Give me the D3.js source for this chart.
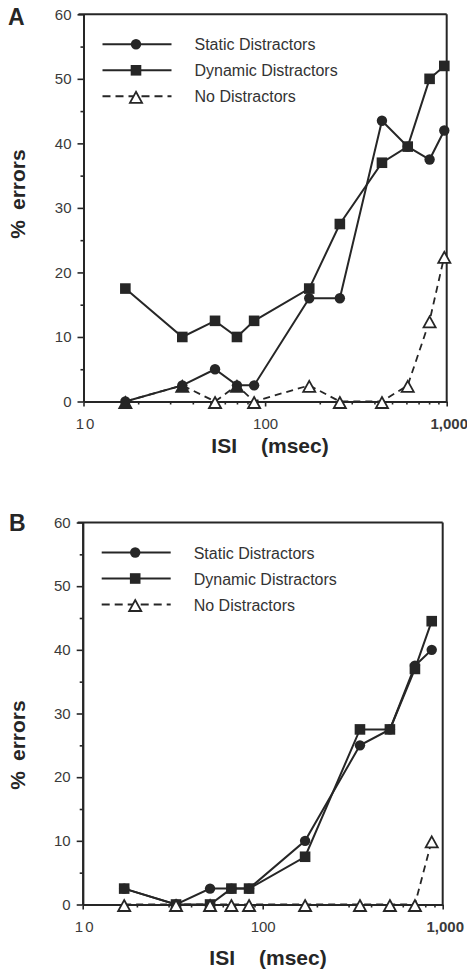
<!DOCTYPE html>
<html>
<head>
<meta charset="utf-8">
<script src="https://cdn.jsdelivr.net/npm/d3@7"></script>
<style>
  body { margin: 0; background: #fff; }
  svg { display: block; font-family: "Liberation Sans", Arial, sans-serif; }
</style>
</head>
<body>
<svg id="chart" width="467" height="970"></svg>
<script>
// panel A
var isiA = [17, 35, 53, 70, 87, 175, 258, 440, 610, 805, 970];
var staticA = [0, 2.5, 5, 2.5, 2.5, 16, 16, 43.5, 39.5, 37.5, 42];
var dynamicA = [17.5, 10, 12.5, 10, 12.5, 17.5, 27.5, 37, 39.5, 50, 52];
var noDistA = [0, 2.5, 0, 2.5, 0, 2.5, 0, 0, 2.5, 12.5, 22.5];

// panel B
var isiB = [17, 33, 51, 67, 84, 172, 347, 509, 701, 869];
var staticB = [2.5, 0, 2.5, 2.5, 2.5, 10, 25, 27.5, 37.5, 40];
var dynamicB = [2.5, 0, 0, 2.5, 2.5, 7.5, 27.5, 27.5, 37, 44.5];
var noDistB = [0, 0, 0, 0, 0, 0, 0, 0, 0, 10];

var seriesNames = ["Static Distractors", "Dynamic Distractors", "No Distractors"];
var yMajor = [0, 10, 20, 30, 40, 50, 60];
var yMinor = [5, 15, 25, 35, 45, 55];
var xMajor = [10, 100, 1000];
var xMajorLabels = ["10", "100", "1,000"];
var xMinor = [20, 30, 40, 50, 60, 70, 80, 90, 200, 300, 400, 500, 600, 700, 800, 900];

var ink = "#262626";
var svg = d3.select("#chart");

function triPath(s) {
    var p = d3.path();
    p.moveTo(0, -s);
    p.lineTo(s * 1.1, s);
    p.lineTo(-s * 1.1, s);
    p.closePath();
    return p.toString();
}

function drawPanel(o) {
    var x = d3.scaleLog().domain([10, 1000]).range(o.xr);
    var y = d3.scaleLinear().domain([0, 60]).range(o.yr);
    var g = svg.append("g");

    // frame top and right
    g.append("line").attr("x1", o.xr[0] - 5).attr("x2", o.xr[1])
        .attr("y1", o.yr[1]).attr("y2", o.yr[1])
        .attr("stroke", ink).attr("stroke-width", 2);
    g.append("line").attr("x1", o.xr[1]).attr("x2", o.xr[1])
        .attr("y1", o.yr[1]).attr("y2", o.yr[0])
        .attr("stroke", ink).attr("stroke-width", 2);

    var ax = g.append("g").attr("transform", "translate(" + o.xr[0] + ",0)")
        .call(d3.axisLeft(y).tickValues(yMajor).tickSize(6).tickSizeOuter(0).tickPadding(6));
    g.append("g").attr("transform", "translate(" + o.xr[0] + ",0)")
        .call(d3.axisLeft(y).tickValues(yMinor).tickSize(3).tickSizeOuter(0).tickFormat(""));
    var bx = g.append("g").attr("transform", "translate(0," + o.yr[0] + ")")
        .call(d3.axisBottom(x).tickValues(xMajor).tickSize(5).tickSizeOuter(0).tickPadding(12)
            .tickFormat(function (d, i) { return xMajorLabels[i]; }));
    g.append("g").attr("transform", "translate(0," + o.yr[0] + ")")
        .call(d3.axisBottom(x).tickValues(xMinor).tickSize(3).tickSizeOuter(0).tickFormat(""));

    g.selectAll(".domain").attr("stroke", ink).attr("stroke-width", 2);
    g.selectAll(".tick line").attr("stroke", ink).attr("stroke-width", 1.6);
    ax.selectAll("text").attr("font-size", 15).attr("fill", "#3a3a3a")
        .attr("font-family", "Liberation Sans, Arial, sans-serif");
    bx.selectAll("text").attr("font-size", 15).attr("fill", "#3a3a3a")
        .attr("font-family", "Liberation Sans, Arial, sans-serif");
    bx.selectAll(".tick:first-of-type text").attr("letter-spacing", 2).attr("dx", 2);
    bx.selectAll(".tick:last-of-type text").attr("font-weight", "bold").attr("dx", 2);

    var line = d3.line().x(function (d) { return x(d[0]); }).y(function (d) { return y(d[1]); });
    var st = d3.zip(o.isi, o.stat), dy = d3.zip(o.isi, o.dyn), nd = d3.zip(o.isi, o.none);

    g.append("path").datum(nd).attr("d", line).attr("fill", "none")
        .attr("stroke", ink).attr("stroke-width", 1.8).attr("stroke-dasharray", "7,5");
    g.append("path").datum(st).attr("d", line).attr("fill", "none")
        .attr("stroke", ink).attr("stroke-width", 2);
    g.append("path").datum(dy).attr("d", line).attr("fill", "none")
        .attr("stroke", ink).attr("stroke-width", 2);

    g.selectAll("circle.st").data(st).enter().append("circle")
        .attr("cx", function (d) { return x(d[0]); })
        .attr("cy", function (d) { return y(d[1]); })
        .attr("r", 5.2).attr("fill", ink);
    g.selectAll("rect.dy").data(dy).enter().append("rect")
        .attr("x", function (d) { return x(d[0]) - 5.3; })
        .attr("y", function (d) { return y(d[1]) - 5.3; })
        .attr("width", 10.6).attr("height", 10.6).attr("fill", ink);
    g.selectAll("path.nd").data(nd).enter().append("path")
        .attr("d", triPath(5.5))
        .attr("transform", function (d) { return "translate(" + x(d[0]) + "," + (y(d[1]) + 1) + ")"; })
        .attr("fill", function (d, i) { return o.filledTri.indexOf(i) >= 0 ? ink : "#fff"; })
        .attr("stroke", ink).attr("stroke-width", 1.8);

    // legend
    var lx0 = o.xr[0] + 19, lx1 = o.xr[0] + 88, lm = (lx0 + lx1) / 2 - 1, tx = o.xr[0] + 111;
    var rows = [30, 56, 82].map(function (r) { return o.yr[1] + r; });
    rows.forEach(function (ry, i) {
        g.append("line").attr("x1", lx0).attr("x2", lx1).attr("y1", ry).attr("y2", ry)
            .attr("stroke", ink).attr("stroke-width", 2)
            .attr("stroke-dasharray", i == 2 ? "8,5" : null);
        if (i == 0) g.append("circle").attr("cx", lm).attr("cy", ry).attr("r", 5.2).attr("fill", ink);
        if (i == 1) g.append("rect").attr("x", lm - 5.3).attr("y", ry - 5.3)
            .attr("width", 10.6).attr("height", 10.6).attr("fill", ink);
        if (i == 2) g.append("path").attr("d", triPath(5.5))
            .attr("transform", "translate(" + lm + "," + (ry + 1) + ")")
            .attr("fill", "#fff").attr("stroke", ink).attr("stroke-width", 1.8);
        g.append("text").attr("x", tx).attr("y", ry + 6).attr("font-size", 16)
            .attr("fill", "#333").text(seriesNames[i]);
    });

    // titles
    var xt = g.append("text").attr("x", o.xTitle[0]).attr("y", o.xTitle[1])
        .attr("text-anchor", "middle").attr("font-size", 21).attr("font-weight", "bold").attr("fill", ink);
    xt.append("tspan").text("ISI");
    xt.append("tspan").attr("dx", 24).text("(msec)");

    var yt = g.append("text").attr("transform", "translate(" + o.yTitle[0] + "," + o.yTitle[1] + ") rotate(-90)")
        .attr("text-anchor", "middle").attr("font-size", 21).attr("font-weight", "bold").attr("fill", ink);
    yt.append("tspan").text("%");
    yt.append("tspan").attr("dx", 10).text("errors");

    g.append("text").attr("x", o.label[0]).attr("y", o.label[1]).attr("font-size", 23)
        .attr("font-weight", "bold").attr("fill", ink).text(o.name);
}

drawPanel({
    name: "A", isi: isiA, stat: staticA, dyn: dynamicA, none: noDistA, filledTri: [0, 1, 3],
    xr: [83.5, 446.7], yr: [401.5, 14.3], xTitle: [270, 453], yTitle: [25, 194], label: [8, 25]
});
drawPanel({
    name: "B", isi: isiB, stat: staticB, dyn: dynamicB, none: noDistB, filledTri: [],
    xr: [82.7, 442.7], yr: [904.5, 522.5], xTitle: [268, 965], yTitle: [25, 745], label: [9, 531]
});
</script>
</body>
</html>
